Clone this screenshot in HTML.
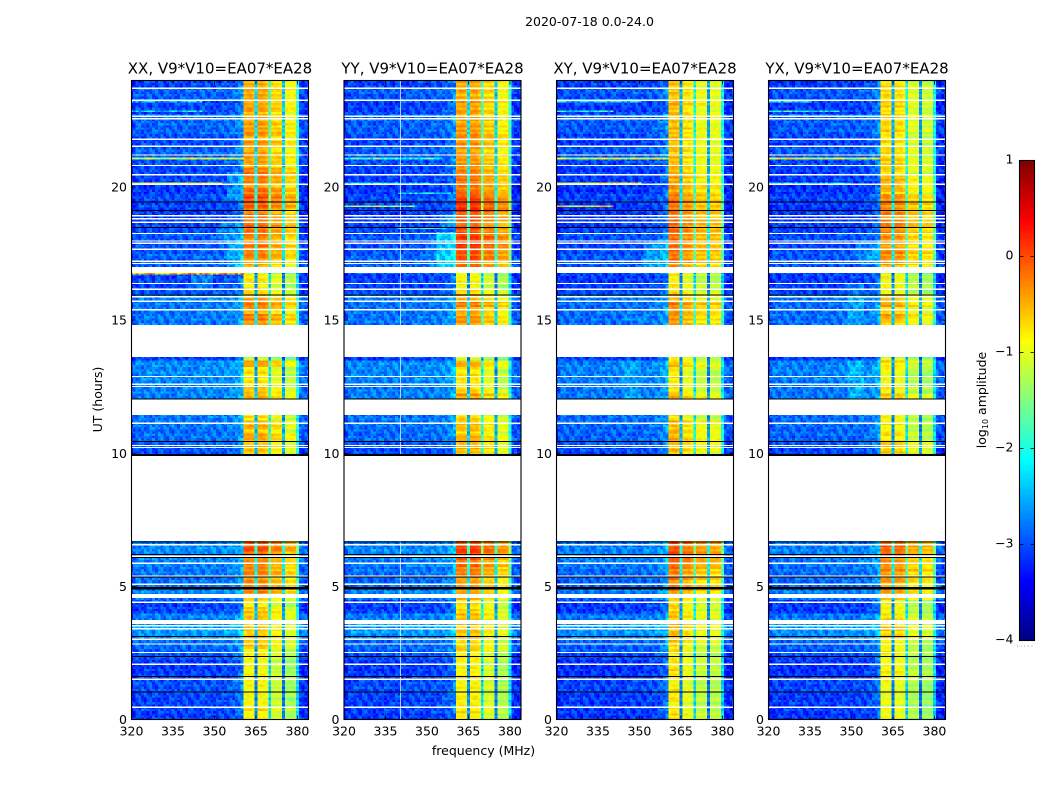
<!DOCTYPE html>
<html>
<head>
<meta charset="utf-8">
<title>2020-07-18 0.0-24.0</title>
<style>
html,body{margin:0;padding:0;background:#fff}
svg{display:block}
text{font-family:"DejaVu Sans","Liberation Sans",sans-serif;fill:#000}
</style>
</head>
<body>
<svg id="figure" xmlns="http://www.w3.org/2000/svg" width="1050" height="800" viewBox="0 0 1050 800">
  <rect width="1050" height="800" fill="#fff"/>
  <text x="589.5" y="26" text-anchor="middle" font-size="12.5">2020-07-18 0.0-24.0</text>
  <text transform="translate(102,399.5) rotate(-90)" text-anchor="middle" font-size="12.5">UT (hours)</text>
  <text x="483.5" y="755" text-anchor="middle" font-size="12.5">frequency (MHz)</text>
  <text transform="translate(986,400) rotate(-90)" text-anchor="middle" font-size="12.5">log<tspan font-size="8" dy="2">10</tspan><tspan dy="-2"> amplitude</tspan></text>
  <g id="panels"></g>
  <g id="colorbar"></g>
</svg>
<script>
// ---------- chart data (log10 amplitude, hours, MHz) ----------
const panelNames = ["XX", "YY", "XY", "YX"];
const baselineLabel = "V9*V10=EA07*EA28";
const xTickLabels = [320, 335, 350, 365, 380];
const yTickLabels = [0, 5, 10, 15, 20];
const colorbarTickLabels = [1, 0, -1, -2, -3, -4];

// amplitude offset of each 1 MHz channel, 320..384
const channelShape = [
  -0.3,-0.1,0,0.02,0,-0.02,0,0.02,0,0,
  0.02,0,-0.02,0,0.02,0,0,-0.02,0,0.02,
  0,0,0.02,0,0,0.03,0.05,0.05,0.03,0.02,
  0,0.02,0.03,0.05,0.05,0.05,0.08,0.1,0.15,0.2,
  0.35,
  -0.15,-0.1,-0.1,-0.15,-1.9,-0.15,-0.15,-0.15,-0.25,-1.5,
  -0.25,-0.25,-0.25,-0.25,-2,-0.2,-0.2,-0.2,-0.2,-1.5,
  -0.05,-0.1,-0.15,-0.15
];

// background level, every 0.25 h from 0 h
const backgroundLevels = [
  -3.05,-3,-3,-3, -2.95,-2.95,-3,-3.05, -3.05,-2.95,-2.85,-2.8,
  -2.6,-2.55,-2.5,-2.7, -3,-3,-2.75,-2.65, -2.8,-2.8,-2.75,-2.7,
  -2.65,-2.65,-2.7,-3, -3,-3,-3,-3, -3,-3,-3,-3, -3,-3,-3,-3,
  -2.95,-2.85,-2.8,-2.8, -2.75,-2.75,-3,-3, -2.7,-2.7,-2.7,-2.65,
  -2.65,-2.65,-3,-3, -3,-3,-3,-2.75, -2.75,-2.75,-2.75,-2.7,
  -2.95,-3,-3,-2.9, -2.85,-2.85,-2.9,-2.95, -2.9,-2.95,-3,-3.05,
  -3.05,-3,-2.95,-3.05, -3.05,-3,-3,-2.95, -2.9,-2.85,-3,-2.95,
  -2.85,-2.85,-2.8,-3, -3,-2.9,-2.85,-3
];
const backgroundShift = [-0.05, -0.07, -0.1, -0.1];

// 360-380 MHz band level, every 0.25 h from 0 h
const bandLevelsXX = [
  -0.8,-0.7,-0.8,-0.85, -0.85,-0.85,-0.8,-0.85, -0.85,-0.8,-0.7,-0.6,
  -0.55,-0.5,-0.5,-0.5, -0.6,-0.75,-0.5,-0.25, -0.25,-0.3,-0.2,-0.15,
  -0.1,0,0,-1, -1,-1,-1,-1, -1,-1,-1,-1, -1,-1,-1,-1,
  -0.5,-0.5,-0.4,-0.55, -0.45,-0.7,-1,-1, -0.4,-0.6,-0.7,-0.7,
  -0.7,-0.4,-1,-1, -1,-1,-1,-0.3, -0.2,-0.4,-0.1,-0.4,
  -0.7,-0.8,-0.75,-1, -0.4,-0.25,-0.2,-0.2, -0.2,-0.1,-0.1,-0.15,
  -0.2,0,0.05,-0.1, -0.25,-0.15,-0.2,-0.4, -0.3,-0.4,-0.3,-0.4,
  -0.3,-0.35,-0.4,-0.4, -0.35,-0.4,-0.35,-0.4
];
const bandLevelsYY = [
  -0.75,-0.7,-0.75,-0.8, -0.8,-0.8,-0.7,-0.8, -0.8,-0.75,-0.65,-0.55,
  -0.5,-0.5,-0.5,-0.5, -0.6,-0.7,-0.45,-0.3, -0.3,-0.25,-0.15,-0.1,
  0,0.1,0.1,-1, -1,-1,-1,-1, -1,-1,-1,-1, -1,-1,-1,-1,
  -0.45,-0.4,-0.45,-0.6, -0.45,-0.65,-1,-1, -0.35,-0.6,-0.7,-0.7,
  -0.7,-0.45,-1,-1, -1,-1,-1,-0.35, -0.3,-0.4,-0.15,-0.4,
  -0.7,-0.8,-0.8,-1, -0.1,0,0.1,0.2, 0.15,0.05,0,0,
  0.15,0.2,0.1,-0.1, -0.15,-0.1,-0.2,-0.3, -0.3,-0.35,-0.25,-0.3,
  -0.3,-0.35,-0.35,-0.4, -0.35,-0.4,-0.4,-0.4
];
const bandLevelsXY = [
  -0.75,-0.8,-0.85,-0.85, -0.85,-0.85,-0.8,-0.75, -0.8,-0.85,-0.8,-0.7,
  -0.6,-0.55,-0.6,-0.65, -0.7,-0.75,-0.55,-0.3, -0.3,-0.3,-0.2,-0.15,
  -0.1,-0.05,-0.05,-1, -1,-1,-1,-1, -1,-1,-1,-1, -1,-1,-1,-1,
  -0.55,-0.6,-0.5,-0.6, -0.55,-0.75,-1,-1, -0.55,-0.75,-0.8,-0.8,
  -0.8,-0.55,-1,-1, -1,-1,-1,-0.5, -0.35,-0.4,-0.25,-0.5,
  -0.75,-0.85,-0.85,-1, -0.3,-0.25,-0.2,-0.2, -0.2,-0.2,-0.15,-0.2,
  -0.25,-0.2,-0.25,-0.4, -0.45,-0.5,-0.5,-0.6, -0.55,-0.6,-0.55,-0.6,
  -0.55,-0.6,-0.55,-0.65, -0.55,-0.6,-0.6,-0.65
];
const bandLevelsYX = [
  -0.85,-0.85,-0.9,-0.9, -0.9,-0.85,-0.75,-0.75, -0.85,-0.85,-0.8,-0.75,
  -0.55,-0.55,-0.65,-0.7, -0.8,-0.8,-0.6,-0.35, -0.35,-0.35,-0.25,-0.2,
  -0.1,-0.05,-0.05,-1, -1,-1,-1,-1, -1,-1,-1,-1, -1,-1,-1,-1,
  -0.55,-0.55,-0.7,-0.8, -0.7,-0.8,-1,-1, -0.55,-0.8,-0.85,-0.85,
  -0.85,-0.6,-1,-1, -1,-1,-1,-0.6, -0.35,-0.55,-0.35,-0.6,
  -0.8,-0.85,-0.85,-1, -0.35,-0.25,-0.25,-0.3, -0.25,-0.2,-0.15,-0.2,
  -0.2,-0.2,-0.25,-0.5, -0.4,-0.5,-0.6,-0.55, -0.6,-0.65,-0.65,-0.7,
  -0.6,-0.6,-0.6,-0.65, -0.6,-0.65,-0.65,-0.65
];
const bandLevelsByPanel = [bandLevelsXX, bandLevelsYY, bandLevelsXY, bandLevelsYX];
// offset of the four sub-bands, per panel
const subbandOffsets = [
  [0.05,0.1,-0.05,-0.3],
  [0.05,0.1,-0.05,-0.3],
  [0.15,0,-0.1,-0.2],
  [0.05,0.05,-0.15,-0.3]
];

// flagged (white) time ranges, hours [start, end]
const flaggedRanges = [
  [0.44,0.49],[1.49,1.54],[2.05,2.10],[2.49,2.54],[2.81,2.86],[2.99,3.04],[3.38,3.43],[3.50,3.55],
  [3.58,3.73],[4.38,4.43],[4.57,4.71],[5.05,5.10],[5.35,5.40],[5.84,5.89],[6.11,6.16],[6.53,6.59],
  [6.70,9.90],[10.19,10.23],[10.27,10.31],[11.10,11.15],[11.43,12.02],[12.48,12.52],[12.57,12.62],[12.86,12.91],
  [13.62,14.82],[15.37,15.42],[15.69,15.74],[15.85,15.90],[16.14,16.19],[16.35,16.40],[16.77,16.99],[17.10,17.15],
  [17.19,17.24],[17.64,17.69],[17.86,17.91],[17.95,18.00],[18.23,18.28],[18.65,18.70],[18.78,18.83],[18.89,18.94],
  [20.08,20.13],[20.44,20.49],[20.78,20.83],[21.18,21.23],[21.50,21.55],[21.77,21.82],[22.54,22.59],[22.63,22.68],
  [23.23,23.28],[23.69,23.74]
];
// dead (black) time ranges, hours [start, end]
const deadRanges = [
  [1.02,1.06],[1.59,1.63],[2.35,2.39],[3.09,3.13],[4.89,4.98],[5.35,5.37],[6.07,6.11],[6.17,6.21],
  [6.65,6.69],[9.90,9.98],[10.42,10.46],[12.01,12.05],[15.92,15.96],[18.46,18.50],[19.10,19.14],[19.41,19.45]
];
// narrow-band interference: panel, hour, first MHz, last MHz, level
const interferenceLines = [
  [0,21.07,320,360,-1.2],[0,20.14,320,352,-1.0],[0,16.75,320,360,-0.5],[0,22.84,320,345,-2.3],[0,23.2,320,345,-2.4],
  [1,21.07,320,355,-1.9],[1,19.27,320,345,-1.3],[1,19.77,340,358,-2.1],[1,18.45,340,356,-1.9],[1,20.14,320,350,-2.3],
  [2,21.07,320,360,-1.2],[2,20.14,320,350,-0.9],[2,19.27,320,340,-0.8],[2,22.84,320,340,-2.1],[2,23.2,320,350,-2.2],
  [3,21.07,320,360,-1.1],[3,22.84,320,345,-2.1],[3,23.2,320,335,-2.2],[3,20.14,320,350,-2.3]
];
// broad patches of raised level: panel, start h, end h, first MHz, last MHz, boost
const raisedPatches = [
  [0,16.2,16.75,342,349,0.25],[0,19.5,20.6,355,360,0.3],[0,17.9,18.7,352,360,0.2],[0,17,18,355,360,0.3],
  [1,17,18.3,350,354,0.15],[1,17,18.3,354,360,0.5],[1,18.5,19,355,360,0.3],
  [2,17,18,352,360,0.3],[2,12,13.5,344,350,0.15],[2,15,15.2,345,352,0.2],
  [3,14.8,16.4,349,354,0.25],[3,12,13.5,349,354,0.25],[3,17.2,18,352,360,0.25]
];
// flagged (pale) channels: panel, MHz
const flaggedChannels = [[1,340.2]];
// small read-off texture tables: row-to-row stripes and cell-to-cell mottling
const rowStripes = [0.1,-0.08,0.04,-0.12,0.12,-0.02,-0.1,0.06,0.02,-0.14,0.08,0.1,-0.06,0.03,-0.09,0.13,-0.04,0.07,-0.12,0.01,0.09,-0.07,0.05,-0.1,0.11,-0.03,-0.11,0.06,0.02,0.08,-0.05,-0.13,0.1];
const cellMottle = [0.18,-0.22,0.05,0.3,-0.12,-0.3,0.12,0.22,-0.05,-0.18,0.34,-0.26,0.02,0.15,-0.08,-0.34,0.25,0.08,-0.15,0.28,-0.2,-0.02,0.1,-0.28,0.2,0.04,-0.1,0.32,-0.24,-0.06,0.16,-0.16,0.26,-0.32,0.07,0.13,-0.04,-0.2,0.3,-0.14,0.01,0.22,-0.3,0.09,-0.09,0.19,-0.25,0.27,-0.01,-0.17,0.11,0.24,-0.27];

// ---------- axes and layout ----------
const SVGNS = "http://www.w3.org/2000/svg";
const panelLefts = [131.5, 344, 556.5, 768.5];
const panelWidth = 177;
const plotTop = 80.5, plotBottom = 719.5;
const freqMin = 320, freqMax = 384, hourMin = 0, hourMax = 24;
const rowsPerHour = 12;
const xScale = (left, mhz) => left + (mhz - freqMin) / (freqMax - freqMin) * panelWidth;
const yScale = hours => plotBottom - (hours - hourMin) / (hourMax - hourMin) * (plotBottom - plotTop);
const cbLeft = 1019.5, cbRight = 1034.5, cbTop = 160.5, cbBottom = 640.5, cbMin = -4, cbMax = 1;
const cbScale = v => cbBottom - (v - cbMin) / (cbMax - cbMin) * (cbBottom - cbTop);
const clamp01 = v => Math.max(0, Math.min(1, v));
function jetColor(logAmp) {
  const t = clamp01((logAmp - cbMin) / (cbMax - cbMin));
  const r = clamp01(Math.min(4 * t - 1.5, -4 * t + 4.5));
  const g = clamp01(Math.min(4 * t - 0.5, -4 * t + 3.5));
  const b = clamp01(Math.min(4 * t + 0.5, -4 * t + 2.5));
  return "rgb(" + Math.round(r * 255) + "," + Math.round(g * 255) + "," + Math.round(b * 255) + ")";
}
function makeNode(tag, attrs, parent) {
  const node = document.createElementNS(SVGNS, tag);
  for (const key in attrs) node.setAttribute(key, attrs[key]);
  parent.appendChild(node);
  return node;
}
function subbandIndex(mhz) {
  if (mhz >= 361 && mhz <= 364) return 0;
  if (mhz >= 366 && mhz <= 369) return 1;
  if (mhz >= 371 && mhz <= 374) return 2;
  if (mhz >= 376 && mhz <= 379) return 3;
  return -1;
}
function cellLevel(panel, mhz, channel, row, quarter) {
  const inBand = mhz >= 361 && mhz <= 380;
  const mottle = cellMottle[(channel * 7 + row * 13 + panel * 5) % cellMottle.length];
  const stripe = rowStripes[(row + panel) % rowStripes.length];
  const hour = (row + 0.5) / rowsPerHour;
  if (inBand) {
    const sub = subbandIndex(mhz);
    const offset = sub >= 0 ? subbandOffsets[panel][sub] : 0;
    return bandLevelsByPanel[panel][quarter] + channelShape[channel] + offset + stripe * 1.3 + mottle * 0.25;
  }
  let level = backgroundLevels[quarter] + backgroundShift[panel] + channelShape[channel] + stripe * 0.3 + mottle * 0.9;
  raisedPatches.forEach(function (p) {
    if (p[0] === panel && hour >= p[1] && hour <= p[2] && mhz >= p[3] && mhz <= p[4]) level += p[5];
  });
  return level;
}
function isBlank(row) {
  const h0 = row / rowsPerHour, h1 = (row + 1) / rowsPerHour;
  return flaggedRanges.some(function (r) { return r[0] <= h0 && r[1] >= h1; });
}

// ---------- panels ----------
const panelsGroup = document.getElementById("panels");
const channelCount = channelShape.length;
const rowCount = (hourMax - hourMin) * rowsPerHour;
panelNames.forEach(function (name, panel) {
  const left = panelLefts[panel];
  const group = makeNode("g", {}, panelsGroup);
  
  
  const clip = makeNode("clipPath", { id: "clip-" + panel }, group);
  makeNode("rect", { x: left, y: plotTop, width: panelWidth, height: plotBottom - plotTop }, clip);
  const plot = makeNode("g", { "clip-path": "url(#clip-" + panel + ")", "shape-rendering": "crispEdges" }, group);
  
  

  for (let row = 0; row < rowCount; row++) {
    if (isBlank(row)) continue;
    const quarter = Math.floor(row * 4 / rowsPerHour);
    const yTop = yScale((row + 1) / rowsPerHour), yBottom = yScale(row / rowsPerHour);
    for (let channel = 0; channel < channelCount; channel++) {
      const mhz = freqMin + channel;
      const x0 = xScale(left, mhz - 0.5), x1 = xScale(left, mhz + 0.5);
      const cell = makeNode("rect", {
        x: x0.toFixed(2), y: yTop.toFixed(2),
        width: (x1 - x0 + 0.4).toFixed(2), height: (yBottom - yTop + 0.4).toFixed(2),
        fill: jetColor(cellLevel(panel, mhz, channel, row, quarter))
      }, plot);
      
      
    }
  }
  interferenceLines.forEach(function (line) {
    if (line[0] !== panel) return;
    for (let mhz = line[2]; mhz <= line[3]; mhz++) {
      const channel = mhz - freqMin;
      const speck = cellMottle[(channel * 11 + panel) % cellMottle.length];
      const tick = makeNode("rect", {
        x: xScale(left, mhz - 0.5).toFixed(2), y: yScale(line[1] + 0.03).toFixed(2),
        width: (panelWidth / (freqMax - freqMin) + 0.4).toFixed(2),
        height: (yScale(line[1] - 0.03) - yScale(line[1] + 0.03)).toFixed(2),
        fill: jetColor(line[4] + speck * 1.6)
      }, plot);
      
      
    }
  });
  flaggedChannels.forEach(function (entry) {
    if (entry[0] !== panel) return;
    const stripe = makeNode("rect", {
      x: xScale(left, entry[1]).toFixed(2), y: plotTop, width: 1.2, height: plotBottom - plotTop,
      fill: "#fff", opacity: 0.7
    }, plot);
    
    
  });
  flaggedRanges.forEach(function (range) {
    const band = makeNode("rect", {
      x: left, y: yScale(range[1]).toFixed(2), width: panelWidth,
      height: Math.max(1, yScale(range[0]) - yScale(range[1])).toFixed(2), fill: "#fff"
    }, plot);
    
    
  });
  deadRanges.forEach(function (range) {
    const band = makeNode("rect", {
      x: left, y: yScale(range[1]).toFixed(2), width: panelWidth,
      height: Math.max(1, yScale(range[0]) - yScale(range[1])).toFixed(2), fill: "#000"
    }, plot);
    
    
  });

  const frame = makeNode("rect", {
    x: left, y: plotTop, width: panelWidth, height: plotBottom - plotTop,
    fill: "none", stroke: "#000", "stroke-width": 1.1
  }, group);
  
  

  xTickLabels.forEach(function (value) {
    const x = xScale(left, value);
    const tickBottom = makeNode("line", { x1: x, x2: x, y1: plotBottom, y2: plotBottom - 4, stroke: "#000", "stroke-width": 0.8 }, group);
    
    
    const tickTop = makeNode("line", { x1: x, x2: x, y1: plotTop, y2: plotTop + 4, stroke: "#000", "stroke-width": 0.8 }, group);
    
    
    const label = makeNode("text", { x: x, y: 735.5, "text-anchor": "middle", "font-size": 12.5 }, group);
    
    
    label.textContent = value;
  });
  yTickLabels.forEach(function (value) {
    const y = yScale(value);
    const tickLeft = makeNode("line", { x1: left, x2: left + 4, y1: y, y2: y, stroke: "#000", "stroke-width": 0.8 }, group);
    
    
    const tickRight = makeNode("line", { x1: left + panelWidth, x2: left + panelWidth - 4, y1: y, y2: y, stroke: "#000", "stroke-width": 0.8 }, group);
    
    
    const label = makeNode("text", { x: left - 4.5, y: y + 4.5, "text-anchor": "end", "font-size": 12.5 }, group);
    
    
    label.textContent = value;
  });
  const title = makeNode("text", { x: left + panelWidth / 2, y: 73.5, "text-anchor": "middle", "font-size": 15 }, group);
  
  
  title.textContent = name + ", " + baselineLabel;
});

// ---------- colorbar ----------
const colorbarGroup = document.getElementById("colorbar");
const colorSteps = [];
for (let i = 0; i < 240; i++) colorSteps.push(cbMin + (i + 0.5) * (cbMax - cbMin) / 240);
colorSteps.forEach(function (value) {
  const half = (cbMax - cbMin) / 480;
  const swatch = makeNode("rect", {
    x: cbLeft, y: cbScale(value + half).toFixed(2), width: cbRight - cbLeft,
    height: (cbScale(value - half) - cbScale(value + half) + 0.5).toFixed(2), fill: jetColor(value),
    "shape-rendering": "crispEdges"
  }, colorbarGroup);
  
  
});
const cbFrame = makeNode("rect", { x: cbLeft, y: cbTop, width: cbRight - cbLeft, height: cbBottom - cbTop, fill: "none", stroke: "#000", "stroke-width": 1.1 }, colorbarGroup);


colorbarTickLabels.forEach(function (value) {
  const y = cbScale(value);
  const tickA = makeNode("line", { x1: cbLeft, x2: cbLeft + 4, y1: y, y2: y, stroke: "#000", "stroke-width": 0.8 }, colorbarGroup);
  
  
  const tickB = makeNode("line", { x1: cbRight, x2: cbRight - 4, y1: y, y2: y, stroke: "#000", "stroke-width": 0.8 }, colorbarGroup);
  
  
  const label = makeNode("text", { x: cbLeft - 6, y: y + 3, "text-anchor": "end", "font-size": 12.5 }, colorbarGroup);
  
  
  label.textContent = value < 0 ? "\u2212" + Math.abs(value) : value;
});
const cbDots = makeNode("line", { x1: 1017, x2: 1035, y1: 646, y2: 646, stroke: "#999", "stroke-width": 1, "stroke-dasharray": "1 2.6" }, colorbarGroup);


</script>
</body>
</html>
